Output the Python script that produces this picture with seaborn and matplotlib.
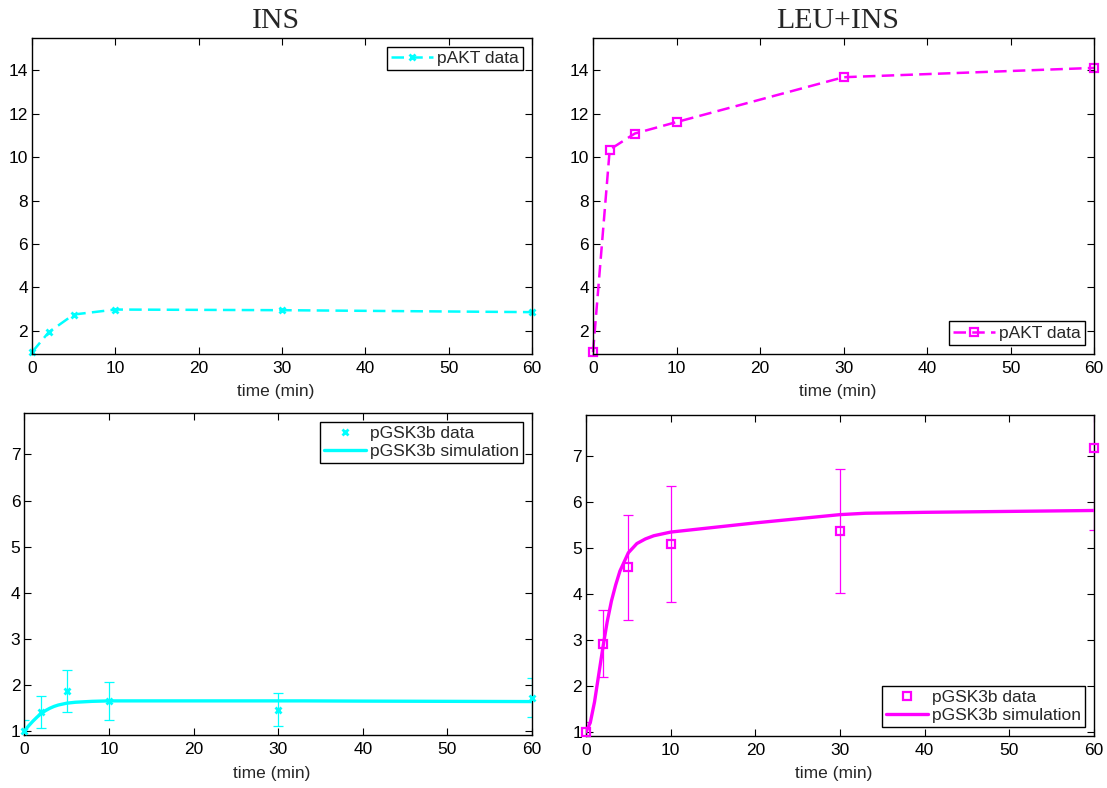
import matplotlib
matplotlib.use("Agg")
import matplotlib.pyplot as plt
import pandas as pd
import seaborn as sns
from matplotlib.lines import Line2D

# Measurement time points (min)
time_pts = [0, 2, 5, 10, 30, 60]

# pAKT fold change
pakt_ins = [1.0, 1.92, 2.74, 2.97, 2.94, 2.85]
pakt_leu = [1.0, 10.35, 11.09, 11.62, 13.69, 14.12]

# pGSK3b fold change with error bars
gsk_ins = [1.0, 1.41, 1.86, 1.65, 1.46, 1.72]
gsk_ins_err = [0.23, 0.35, 0.46, 0.41, 0.36, 0.42]
gsk_leu = [1.0, 2.92, 4.58, 5.09, 5.38, 7.19]
gsk_leu_err = [0.22, 0.73, 1.14, 1.27, 1.35, 1.80]

# Model simulation of pGSK3b
sim_time = [0, 0.5, 1, 1.5, 2, 2.5, 3, 3.5, 4, 5, 6, 7, 8, 10, 15, 20, 25, 30, 33, 40, 50, 60]
sim_ins = [1.0, 1.11, 1.21, 1.30, 1.38, 1.44, 1.49, 1.53, 1.56, 1.60, 1.62, 1.63, 1.64, 1.65,
           1.65, 1.65, 1.65, 1.65, 1.65, 1.645, 1.64, 1.635]
sim_leu = [1.0, 1.2, 1.65, 2.25, 2.85, 3.4, 3.85, 4.2, 4.5, 4.9, 5.1, 5.2, 5.27, 5.35,
           5.45, 5.55, 5.64, 5.73, 5.76, 5.78, 5.80, 5.82]

titles = ["INS", "LEU+INS"]
xticks = [0, 10, 20, 30, 40, 50, 60]
top_yticks = [2, 4, 6, 8, 10, 12, 14]
bot_yticks = [1, 2, 3, 4, 5, 6, 7]

CYAN = (0.0, 1.0, 1.0)
MAGENTA = (1.0, 0.0, 1.0)

sns.set_style("ticks")
plt.rcParams.update({
    "font.family": ["Liberation Sans", "DejaVu Sans"],
    "font.size": 12,
    "xtick.direction": "in",
    "ytick.direction": "in",
    "xtick.top": True,
    "ytick.right": True,
    "xtick.major.size": 5,
    "ytick.major.size": 5,
    "xtick.major.width": 0.8,
    "ytick.major.width": 0.8,
    "xtick.color": "black",
    "ytick.color": "black",
    "xtick.labelsize": 12.5,
    "ytick.labelsize": 12.5,
    "axes.edgecolor": "black",
    "axes.linewidth": 1.0,
})

fig = plt.figure(figsize=(11.07, 7.88), dpi=100)
ax_tl = fig.add_axes([0.0289, 0.5508, 0.4517, 0.401])
ax_tr = fig.add_axes([0.5357, 0.5508, 0.4526, 0.401])
ax_bl = fig.add_axes([0.0221, 0.0673, 0.4585, 0.4086])
ax_br = fig.add_axes([0.5294, 0.0660, 0.4589, 0.4074])

DASH = (5, 2.5)
X_MARK = dict(markersize=5, markeredgewidth=2.0)
SQ_MARK = dict(markersize=5.5, markeredgewidth=1.6, markerfacecolor="none")


def style_axes(ax, ylim, yticks):
    ax.set_xlim(0, 60)
    ax.set_ylim(*ylim)
    ax.set_xticks(xticks)
    ax.set_yticks(yticks)
    ax.set_xlabel("time (min)", fontsize=12.5, labelpad=5)
    ax.xaxis.set_label_coords(0.488, -0.095)
    ax.set_ylabel("")
    ax.tick_params(axis="x", pad=5)
    ax.tick_params(axis="y", pad=3)
    for sp in ax.spines.values():
        sp.set_visible(True)
        sp.set_color("black")


def legend(ax, handles, labels, loc):
    leg = ax.legend(handles, labels, loc=loc, fontsize=12.5, frameon=True,
                    fancybox=False, edgecolor="black", framealpha=1.0,
                    handlelength=2.4, handletextpad=0.25, borderpad=0.25,
                    borderaxespad=0.5, labelspacing=0.15)
    leg.get_frame().set_linewidth(1.0)


# --- pAKT panels ---
pakt_specs = [
    (ax_tl, pakt_ins, CYAN, "x", X_MARK, "upper right"),
    (ax_tr, pakt_leu, MAGENTA, "s", SQ_MARK, "lower right"),
]
for ax, vals, col, mk, mkw, loc in pakt_specs:
    df = pd.DataFrame({"time": time_pts, "value": vals})
    sns.lineplot(data=df, x="time", y="value", ax=ax, color=col, linewidth=1.8,
                 linestyle="--", dashes=False, marker=mk, markeredgecolor=col,
                 estimator=None, sort=False, legend=False, clip_on=False, **mkw)
    for ln in ax.get_lines():
        ln.set_dashes(DASH)
    style_axes(ax, (0.92, 15.5), top_yticks)
    h = Line2D([], [], color=col, linewidth=1.8, linestyle=(0, DASH), marker=mk,
               markeredgecolor=col, **mkw)
    legend(ax, [h], ["pAKT data"], loc)

for ax, t in zip([ax_tl, ax_tr], titles):
    ax.set_title(t, fontsize=21.5, family=["Liberation Serif", "DejaVu Serif"],
                 pad=7, x=0.488)

# --- pGSK3b panels ---
gsk_specs = [
    (ax_bl, gsk_ins, gsk_ins_err, sim_ins, CYAN, "x", X_MARK, "upper right"),
    (ax_br, gsk_leu, gsk_leu_err, sim_leu, MAGENTA, "s", SQ_MARK, "lower right"),
]
for ax, vals, errs, sim, col, mk, mkw, loc in gsk_specs:
    ax.errorbar(time_pts, vals, yerr=errs, fmt="none", ecolor=col,
                elinewidth=0.9, capsize=3.5, capthick=0.9, zorder=2)
    sim_df = pd.DataFrame({"time": sim_time, "value": sim})
    sns.lineplot(data=sim_df, x="time", y="value", ax=ax, color=col, linewidth=2.4,
                 estimator=None, sort=False, legend=False, zorder=3)
    df = pd.DataFrame({"time": time_pts, "value": vals})
    sns.lineplot(data=df, x="time", y="value", ax=ax, color=col, linestyle="none",
                 marker=mk, markeredgecolor=col, estimator=None, sort=False,
                 legend=False, clip_on=False, zorder=4, **mkw)
    style_axes(ax, (0.91, 7.9), bot_yticks)
    h_data = Line2D([], [], color=col, linestyle="none", marker=mk,
                    markeredgecolor=col, **mkw)
    h_sim = Line2D([], [], color=col, linewidth=2.4)
    legend(ax, [h_data, h_sim], ["pGSK3b data", "pGSK3b simulation"], loc)

fig.savefig("out.png", dpi=100)
